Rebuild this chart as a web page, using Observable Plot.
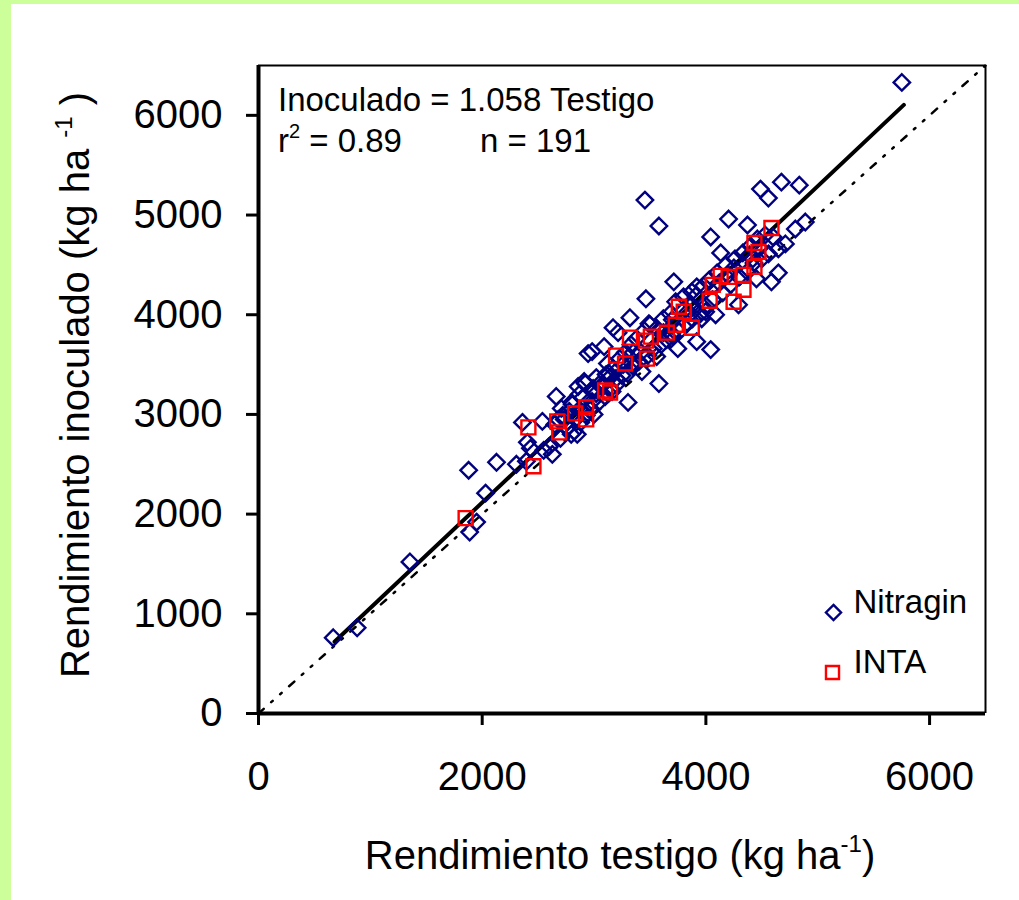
<!DOCTYPE html>
<html><head><meta charset="utf-8">
<script src="https://cdn.jsdelivr.net/npm/d3@7"></script>
<script src="https://cdn.jsdelivr.net/npm/@observablehq/plot@0.6"></script>
<style>
html,body{margin:0;padding:0;background:#ccff99;width:1019px;height:900px;overflow:hidden;}
#chart{position:absolute;left:11px;top:4px;width:1008px;height:896px;background:#fff;}
</style></head><body><div id="chart"></div>
<script>
// Rendimiento testigo (x) / inoculado (y), kg/ha
const nitraginTestigo = [
 668,882,1354,1879,2128,2030,1950,1888,2306,2404,2431,2627,2395,2360,2538,2796,2850,2662,2867,2921,
 2858,2707,2823,2734,3304,3197,3108,2983,3019,3045,3161,2778,2805,3464,3321,3170,3215,2983,2947,3090,
 3134,2912,3339,3428,3580,2992,3749,3918,4043,3695,4087,3491,3580,4203,4372,4043,4132,4648,4586,4292,
 3998,3713,3874,3918,4711,4648,4800,3455,4488,4559,4675,4835,4889,4452,3963,5752,
 2600,2650,2700,2720,2760,2800,2840,2880,2900,2930,2960,2980,3000,3020,3050,3070,3100,3120,3150,3170,
 3200,3230,3250,3280,3300,3330,3350,3380,3400,3420,3450,3480,3500,3530,3560,3600,3620,3650,3680,3700,
 3730,3760,3800,3830,3860,3880,3910,3950,3980,4000,4030,4060,4100,4150,4180,4220,4260,4300,4330,4370,
 4400,4430,4460,4500,4530,4560,4600,4390,4250,3350,3150,2870,4480,2550,2680,3260,3560,3620,3840,4120,
 4200,4420,3700
];
const nitraginInoculado = [
 760,860,1520,2440,2520,2210,1920,1820,2500,2720,2660,2600,2530,2920,2930,2800,2800,3180,3200,3310,
 3280,3060,2830,2950,3120,3360,3400,3130,3210,3300,3230,3030,3100,4160,3970,3870,3820,3630,3610,3680,
 3410,3330,3510,3430,3310,3260,3660,3730,3650,3810,4000,3910,4890,4960,4900,4780,4620,4420,4330,4100,
 4030,4330,4230,4280,4710,4660,4860,5150,5260,5170,5330,5300,4930,4360,3960,6330,
 2680,2900,2760,2990,2870,3120,2960,2920,3170,2990,3050,3240,3000,3370,3130,3290,3180,3510,3260,3460,
 3300,3560,3390,3620,3410,3700,3480,3760,3530,3620,3840,3590,3900,3660,3860,3700,3960,3750,4010,3790,
 4130,3830,4180,3920,4110,3960,4190,4010,4290,4090,4350,4150,4420,4220,4500,4300,4560,4380,4620,4430,
 4690,4520,4760,4560,4800,4610,4780,4600,4470,3620,3380,3050,4670,2640,2950,3500,3580,3820,4030,4320,
 4400,4560,3950
];
const intaTestigo = [
 1852,2458,2413,2671,2689,2832,2930,2930,3099,3143,3197,3277,3321,3464,3473,3508,
 3651,3731,3758,3802,3874,4034,4061,4132,4203,4248,4336,4336,4434,4434,4470,4586
];
const intaInoculado = [
 1960,2480,2870,2930,2820,3010,3070,2950,3240,3220,3590,3510,3770,3740,3560,3780,
 3820,3900,4080,4030,3870,4140,4300,4390,4380,4130,4250,4400,4480,4720,4630,4870
];
const xTicks = [0, 2000, 4000, 6000];
const yTicks = [0, 1000, 2000, 3000, 4000, 5000, 6000];
const axisDomain = [0, 6500];
const slope = 1.058;            // Inoculado = 1.058 Testigo
const fitRange = [680, 5770];
const legendNames = ["Nitragin", "INTA"];

const nitragin = nitraginTestigo.map((x, i) => ({x, y: nitraginInoculado[i]}));
const inta = intaTestigo.map((x, i) => ({x, y: intaInoculado[i]}));
const fitLine = fitRange.map(x => ({x, y: slope * x}));
const idLine = axisDomain.map(v => ({x: v, y: v}));

const FONT = "'Liberation Sans', Arial, sans-serif";
const DIAMOND_R = 7.4, SQUARE_R = 8.9;

const plot = Plot.plot({
  width: 1008, height: 896,
  marginLeft: 247, marginRight: 34, marginTop: 61, marginBottom: 187,
  style: {background: "white", fontFamily: FONT, fontSize: "40px", color: "black", maxWidth: "none"},
  x: {domain: axisDomain},
  y: {domain: axisDomain},
  marks: [
    Plot.line(idLine, {x: "x", y: "y", stroke: "black", strokeWidth: 2.5, strokeDasharray: "7,10,2,10,2,10"}),
    Plot.line(fitLine, {x: "x", y: "y", stroke: "black", strokeWidth: 4}),
    Plot.dot(nitragin, {x: "x", y: "y", symbol: "diamond2", r: DIAMOND_R, stroke: "#000080", strokeWidth: 2.4, fill: "none"}),
    Plot.dot(inta, {x: "x", y: "y", symbol: "square2", r: SQUARE_R, stroke: "#ff0000", strokeWidth: 2.4, fill: "none"}),
    Plot.ruleY([axisDomain[1]], {stroke: "black", strokeWidth: 2}),
    Plot.ruleX([axisDomain[1]], {stroke: "black", strokeWidth: 2}),
    Plot.ruleX([0], {stroke: "black", strokeWidth: 4}),
    Plot.ruleY([0], {stroke: "black", strokeWidth: 4}),
    Plot.axisX({ticks: xTicks, tickSize: 12, tickPadding: 36, strokeWidth: 3, fontSize: 40, tickFormat: d => String(d), label: null}),
    Plot.axisY({ticks: yTicks, tickSize: 12, tickPadding: 24, strokeWidth: 3, fontSize: 40, tickFormat: d => String(d), label: null}),
    // legend
    Plot.dot([legendNames[0]], {frameAnchor: "bottom-right", dx: -152, dy: -101, symbol: "diamond2", r: 6.8, stroke: "#000080", strokeWidth: 2.4, fill: "none"}),
    Plot.dot([legendNames[1]], {frameAnchor: "bottom-right", dx: -153, dy: -41, symbol: "square2", r: 8.3, stroke: "#ff0000", strokeWidth: 2.4, fill: "none"}),
    Plot.text([legendNames[0]], {text: d => d, frameAnchor: "bottom-right", dx: -132, dy: -101, textAnchor: "start", fontSize: 33, fill: "black"}),
    Plot.text([legendNames[1]], {text: d => d, frameAnchor: "bottom-right", dx: -132, dy: -41, textAnchor: "start", fontSize: 33, fill: "black"})
  ]
});
document.getElementById("chart").appendChild(plot);

const svg = d3.select(plot);
// x title
const xt = svg.append("text").attr("x", 620 - 11).attr("y", 869 - 4)
  .attr("text-anchor", "middle").attr("font-size", 40).attr("font-family", FONT).attr("fill", "black");
xt.append("tspan").text("Rendimiento testigo (kg ha");
xt.append("tspan").attr("font-size", 24).attr("dy", -17).text("-1");
xt.append("tspan").attr("dy", 17).text(")");
// y title
const yt = svg.append("text").attr("transform", `translate(${89 - 11},${385 - 4}) rotate(-90)`)
  .attr("text-anchor", "middle").attr("font-size", 40).attr("font-family", FONT).attr("fill", "black");
yt.append("tspan").text("Rendimiento inoculado (kg ha ");
yt.append("tspan").attr("font-size", 24).attr("dy", -17).text("-1");
yt.append("tspan").attr("dy", 17).text(" )");
// annotations
svg.append("text").attr("x", 278 - 11).attr("y", 111 - 4).attr("font-size", 33).attr("text-anchor", "start")
  .attr("font-family", FONT).attr("fill", "black").text("Inoculado = 1.058 Testigo");
const r2 = svg.append("text").attr("x", 278 - 11).attr("y", 152 - 4).attr("font-size", 33).attr("text-anchor", "start")
  .attr("font-family", FONT).attr("fill", "black");
r2.append("tspan").text("r");
r2.append("tspan").attr("font-size", 20).attr("dy", -14).text("2");
r2.append("tspan").attr("dy", 14).text(" = 0.89");
svg.append("text").attr("x", 480 - 11).attr("y", 152 - 4).attr("font-size", 33).attr("text-anchor", "start")
  .attr("font-family", FONT).attr("fill", "black").text("n = 191");
</script></body></html>
